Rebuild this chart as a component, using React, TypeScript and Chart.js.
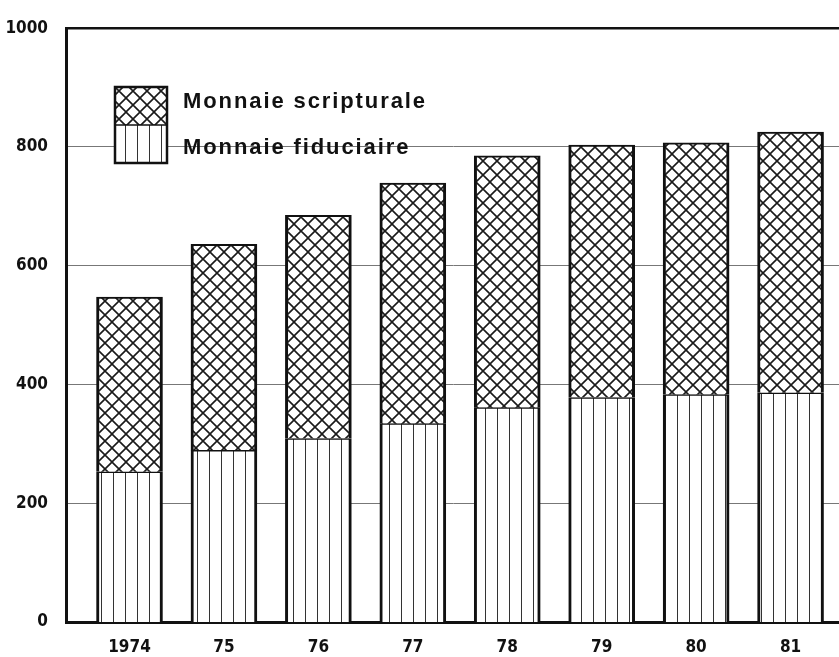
import React, { useEffect, useRef } from "react";
import { Chart, registerables } from "chart.js";

Chart.register(...registerables);

const years = ["1974", "75", "76", "77", "78", "79", "80", "81"];
const fiduciaire = [253, 289, 309, 334, 361, 378, 383, 386];
const scripturale = [294, 347, 376, 405, 424, 425, 424, 439];
const yTicks = [0, 200, 400, 600, 800, 1000];
const legendLabels = ["Monnaie scripturale", "Monnaie fiduciaire"];

const tickFont = "'Liberation Sans Narrow', 'DejaVu Sans Condensed', 'Liberation Sans', sans-serif";

function makeVertical(): CanvasPattern | string {
  const c = document.createElement("canvas");
  c.width = 12;
  c.height = 4;
  const g = c.getContext("2d");
  if (!g) return "#fff";
  g.fillStyle = "#fff";
  g.fillRect(0, 0, 12, 4);
  g.fillStyle = "#333";
  g.fillRect(5, 0, 1, 4);
  return g.createPattern(c, "repeat") || "#fff";
}

function makeCross(): CanvasPattern | string {
  const s = 14;
  const c = document.createElement("canvas");
  c.width = s;
  c.height = s;
  const g = c.getContext("2d");
  if (!g) return "#fff";
  g.fillStyle = "#fff";
  g.fillRect(0, 0, s, s);
  g.strokeStyle = "#1a1a1a";
  g.lineWidth = 1.6;
  g.beginPath();
  g.moveTo(-2, -2);
  g.lineTo(s + 2, s + 2);
  g.moveTo(s + 2, -2);
  g.lineTo(-2, s + 2);
  g.stroke();
  return g.createPattern(c, "repeat") || "#fff";
}

export default function App() {
  const ref = useRef<HTMLCanvasElement | null>(null);

  useEffect(() => {
    if (!ref.current) return;
    const vert = makeVertical();
    const cross = makeCross();

    const legendPlugin = {
      id: "customLegend",
      afterDraw(chart: any) {
        const ctx = chart.ctx as CanvasRenderingContext2D;
        ctx.save();
        const bx = 115, by = 87, bw = 52, bh = 76;
        ctx.fillStyle = cross as any;
        ctx.fillRect(bx, by, bw, bh / 2);
        ctx.fillStyle = vert as any;
        ctx.fillRect(bx, by + bh / 2, bw, bh / 2);
        ctx.strokeStyle = "#111";
        ctx.lineWidth = 2.5;
        ctx.strokeRect(bx, by, bw, bh);
        ctx.lineWidth = 1.5;
        ctx.beginPath();
        ctx.moveTo(bx, by + bh / 2);
        ctx.lineTo(bx + bw, by + bh / 2);
        ctx.stroke();
        ctx.fillStyle = "#111";
        ctx.font = "bold 22px 'Liberation Sans', Arial, sans-serif";
        (ctx as any).letterSpacing = "1.9px";
        ctx.textBaseline = "alphabetic";
        ctx.textAlign = "left";
        ctx.fillText(legendLabels[0], 183, 108);
        ctx.fillText(legendLabels[1], 183, 154);
        ctx.restore();
      },
    };

    const chart = new Chart(ref.current, {
      type: "bar",
      data: {
        datasets: [
          {
            label: legendLabels[1],
            data: fiduciaire.map((v, i) => ({ x: i, y: v })),
            backgroundColor: vert as any,
            borderColor: "#111",
            borderWidth: { left: 3, right: 3, top: 1.5, bottom: 0 },
            borderSkipped: false,
            barThickness: 66,
            stack: "s",
          },
          {
            label: legendLabels[0],
            data: scripturale.map((v, i) => ({ x: i, y: v })),
            backgroundColor: cross as any,
            borderColor: "#111",
            borderWidth: { left: 3, right: 3, top: 2, bottom: 0 },
            borderSkipped: false,
            barThickness: 66,
            stack: "s",
          },
        ],
      },
      options: {
        animation: false,
        responsive: false,
        maintainAspectRatio: false,
        layout: { padding: { top: 28, right: 0, bottom: 0, left: 0 } },
        plugins: {
          legend: { display: false },
          tooltip: { enabled: false },
        },
        scales: {
          x: {
            type: "linear",
            stacked: true,
            offset: false,
            min: -0.6725,
            max: 7.513,
            afterFit: (s: any) => {
              s.height = 35;
            },
            afterBuildTicks: (s: any) => {
              s.ticks = years.map((_, i) => ({ value: i }));
            },
            grid: { display: false, drawTicks: false, offset: false },
            border: { display: true, color: "#111", width: 3 },
            ticks: {
              autoSkip: false,
              maxRotation: 0,
              padding: 15,
              color: "#111",
              font: { family: tickFont, size: 17, weight: "bold" },
              callback: (v: any) => years[Math.round(Number(v))] ?? "",
            },
          },
          y: {
            stacked: true,
            min: 0,
            max: 1000,
            afterFit: (s: any) => {
              s.width = 66;
            },
            afterBuildTicks: (s: any) => {
              s.ticks = yTicks.map((v) => ({ value: v }));
            },
            grid: {
              drawTicks: false,
              color: (c: any) => (c.tick && c.tick.value === 1000 ? "#111" : "#777"),
              lineWidth: (c: any) =>
                c.tick && c.tick.value === 1000 ? 2.5 : c.tick && c.tick.value === 0 ? 0 : 1,
            },
            border: { display: true, color: "#111", width: 3 },
            ticks: {
              padding: 18,
              color: "#111",
              font: { family: tickFont, size: 17, weight: "bold" },
              callback: (v: any) => String(v),
            },
          },
        },
      },
      plugins: [legendPlugin],
    });
    return () => chart.destroy();
  }, []);

  return (
    <div style={{ position: "absolute", left: 0, top: 0, width: 839, height: 657, background: "#fff" }}>
      <canvas ref={ref} width={839} height={657} style={{ display: "block" }} />
    </div>
  );
}
